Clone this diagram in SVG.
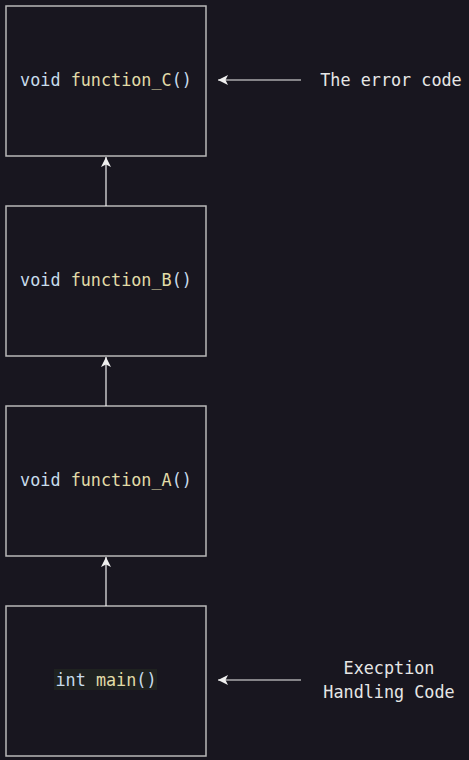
<svg xmlns="http://www.w3.org/2000/svg" width="469" height="760" viewBox="0 0 469 760">
<defs>
<marker id="ah" viewBox="0 0 10 10" refX="10" refY="5" markerWidth="10" markerHeight="10" markerUnits="userSpaceOnUse" orient="auto">
<path d="M10,5 L0,0 L2.5,5 L0,10 Z" fill="#f0f0f0"/>
</marker>
<style>
.box{fill:#18161f;stroke:#b8b8b8;stroke-width:1.5}
.t{font-family:"DejaVu Sans Mono","Liberation Mono",monospace;font-size:16.8px;text-anchor:middle;dominant-baseline:central}
.kw{fill:#c8dcec}
.fn{fill:#e2dca8}
.lbl{fill:#e6e6e6}
.c{stroke:#f0f0f0;stroke-width:1.2;fill:none}
</style>
</defs>
<rect width="469" height="760" fill="#18161f"/>
<g id="nodeC"><rect class="box" x="6" y="6" width="200" height="150"/><text class="t" x="106" y="80"><tspan class="kw">void </tspan><tspan class="fn">function_C</tspan><tspan class="kw">()</tspan></text></g>
<g id="nodeB"><rect class="box" x="6" y="206" width="200" height="150"/><text class="t" x="106" y="280"><tspan class="kw">void </tspan><tspan class="fn">function_B</tspan><tspan class="kw">()</tspan></text></g>
<g id="nodeA"><rect class="box" x="6" y="406" width="200" height="150"/><text class="t" x="106" y="480"><tspan class="kw">void </tspan><tspan class="fn">function_A</tspan><tspan class="kw">()</tspan></text></g>
<g id="nodeMain"><rect class="box" x="6" y="606" width="200" height="150"/><rect x="54" y="669" width="103" height="21" fill="#1f2220"/><text class="t" x="106" y="680"><tspan class="kw">int </tspan><tspan class="fn">main</tspan><tspan class="kw">()</tspan></text></g>
<g id="labelError"><text class="t lbl" x="391" y="80">The error code</text></g>
<g id="labelHandling"><text class="t lbl" x="389" y="668">Execption</text><text class="t lbl" x="389" y="692">Handling Code</text></g>
<g id="connectors">
<path class="c" d="M301,80 H218" marker-end="url(#ah)"/>
<path class="c" d="M301,680 H218" marker-end="url(#ah)"/>
<path class="c" d="M106,206 V157" marker-end="url(#ah)"/>
<path class="c" d="M106,406 V357" marker-end="url(#ah)"/>
<path class="c" d="M106,606 V557" marker-end="url(#ah)"/>
</g>
</svg>
